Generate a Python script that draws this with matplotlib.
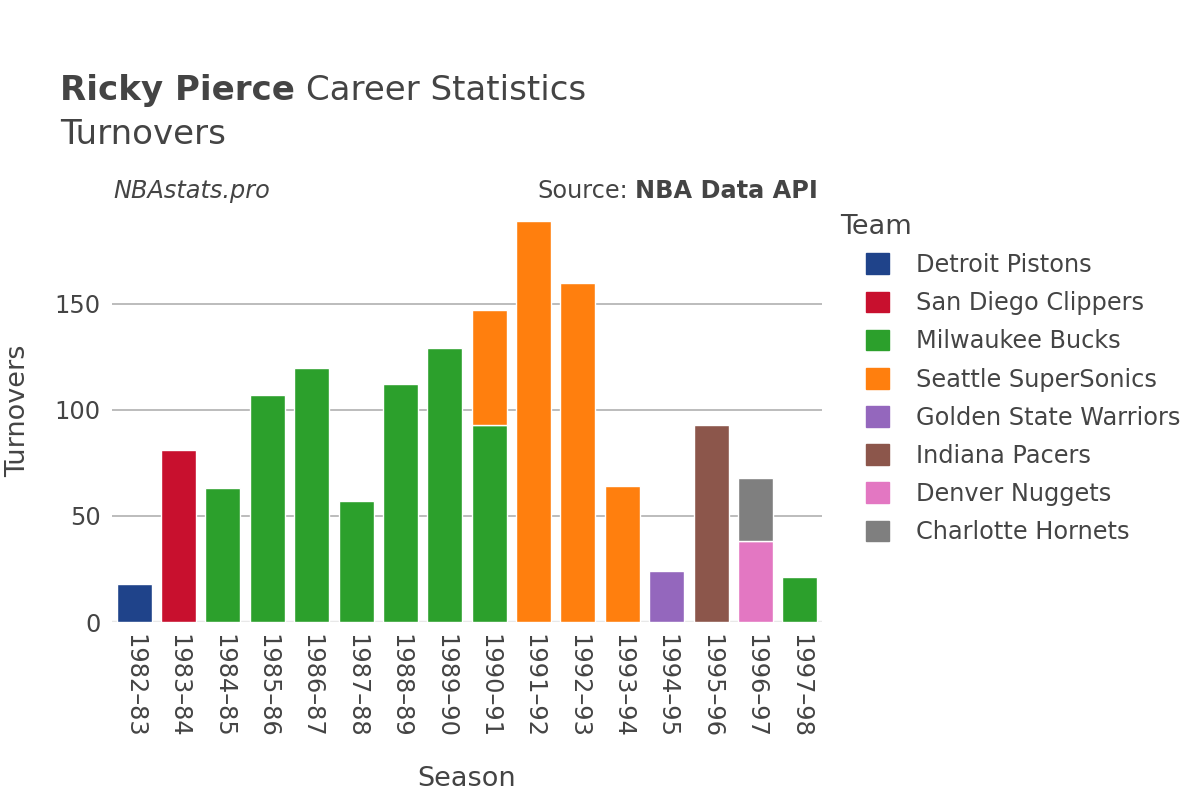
import numpy as np
import matplotlib
matplotlib.use('Agg')
import matplotlib.pyplot as plt
from matplotlib.patches import Patch

plt.rcParams['font.family'] = ['DejaVu Sans']

# 数据
seasons = ['1982–83', '1983–84', '1984–85', '1985–86', '1986–87', '1987–88',
           '1988–89', '1989–90', '1990–91', '1991–92', '1992–93', '1993–94',
           '1994–95', '1995–96', '1996–97', '1997–98']
teams = ['Detroit Pistons', 'San Diego Clippers', 'Milwaukee Bucks',
         'Seattle SuperSonics', 'Golden State Warriors', 'Indiana Pacers',
         'Denver Nuggets', 'Charlotte Hornets']
team_colors = ['#1f438a', '#c8102e', '#2ca02c', '#ff7f0e', '#9467bd',
               '#8c564b', '#e377c2', '#7f7f7f']
# 每个赛季按球队的失误数 (0 表示未效力)
detroit = [18, 0, 0, 0, 0, 0, 0, 0, 0, 0, 0, 0, 0, 0, 0, 0]
san_diego = [0, 81, 0, 0, 0, 0, 0, 0, 0, 0, 0, 0, 0, 0, 0, 0]
milwaukee = [0, 0, 63, 107, 120, 57, 112, 129, 93, 0, 0, 0, 0, 0, 0, 21]
seattle = [0, 0, 0, 0, 0, 0, 0, 0, 54, 189, 160, 64, 0, 0, 0, 0]
golden_state = [0, 0, 0, 0, 0, 0, 0, 0, 0, 0, 0, 0, 24, 0, 0, 0]
indiana = [0, 0, 0, 0, 0, 0, 0, 0, 0, 0, 0, 0, 0, 93, 0, 0]
denver = [0, 0, 0, 0, 0, 0, 0, 0, 0, 0, 0, 0, 0, 0, 38, 0]
charlotte = [0, 0, 0, 0, 0, 0, 0, 0, 0, 0, 0, 0, 0, 0, 30, 0]
series = [detroit, san_diego, milwaukee, seattle, golden_state, indiana,
          denver, charlotte]

text_color = '#444444'
W, H = 1200, 800

fig = plt.figure(figsize=(12, 8), dpi=100)
ax = fig.add_axes([112 / W, 1 - 622 / H, 710 / W, 422 / H])

x = np.arange(len(seasons))
bottom = np.zeros(len(seasons))
for vals, color in zip(series, team_colors):
    vals = np.array(vals, dtype=float)
    mask = vals > 0
    ax.bar(x[mask], vals[mask], bottom=bottom[mask], width=0.79,
           color=color, edgecolor='white', linewidth=1.0, zorder=3)
    bottom += vals

ax.set_xlim(-0.5, len(seasons) - 0.5)
ax.set_ylim(0, 199)
ax.set_yticks([0, 50, 100, 150])
ax.grid(axis='y', color='#b0b0b0', linewidth=1.2, zorder=0)
ax.axhline(0, color='#e8e8e8', linewidth=2.5, zorder=2)
for s in ax.spines.values():
    s.set_visible(False)
ax.tick_params(axis='both', length=0, labelsize=17.3, colors=text_color)
ax.tick_params(axis='y', pad=8)
ax.set_xticks(x)
ax.set_xticklabels(seasons, rotation=270, fontsize=17.3)
ax.tick_params(axis='x', pad=9)

ax.set_ylabel('Turnovers', fontsize=19.5, color=text_color, va='center')
ax.set_xlabel('Season', fontsize=19.5, color=text_color, va='center')
ax.yaxis.set_label_coords(-0.132, 0.5)
ax.xaxis.set_label_coords(0.5, -0.373)

# 标题
renderer = fig.canvas.get_renderer()
t1 = fig.text(60 / W, 1 - 100 / H, 'Ricky Pierce', fontsize=24.5,
              fontweight='bold', color=text_color, va='baseline')
bb = t1.get_window_extent(renderer)
fig.text(bb.x1 / W + 0.009, 1 - 100 / H, 'Career Statistics', fontsize=24.5,
         color=text_color, va='baseline')
fig.text(60 / W, 1 - 144 / H, 'Turnovers', fontsize=24.5, color=text_color,
         va='baseline')

fig.text(113 / W, 1 - 198 / H, 'NBAstats.pro', fontsize=17.3, style='italic',
         color=text_color, va='baseline')
t2 = fig.text(818 / W, 1 - 198 / H, 'NBA Data API', fontsize=17.3,
              fontweight='bold', color=text_color, va='baseline', ha='right')
bb2 = t2.get_window_extent(renderer)
fig.text(bb2.x0 / W - 0.006, 1 - 198 / H, 'Source:', fontsize=17.3,
         color=text_color, va='baseline', ha='right')

# 图例
fig.text(840 / W, 1 - 227 / H, 'Team', fontsize=19.5, color=text_color,
         va='center')
handles = [Patch(facecolor=c, edgecolor=c) for c in team_colors]
leg = fig.legend(handles, teams, loc='upper left',
                 bbox_to_anchor=(866 / W, 1 - 253 / H), frameon=False,
                 fontsize=17.3, handlelength=0.95, handleheight=0.95,
                 handletextpad=1.15, labelspacing=0.59, borderpad=0,
                 borderaxespad=0)
for t in leg.get_texts():
    t.set_color(text_color)

fig.savefig('out.png', dpi=100, facecolor='white')
